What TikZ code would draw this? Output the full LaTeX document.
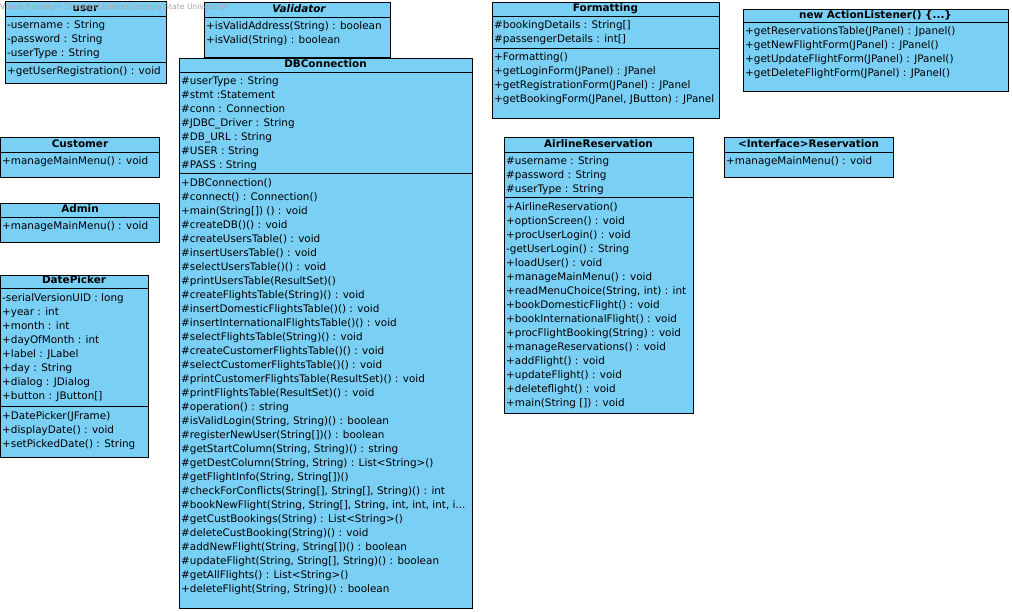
\documentclass[tikz,border=0pt]{standalone}
\usepackage{fontspec}
\setmainfont{DejaVu Sans}
\usepackage{tikz}
\definecolor{umlblue}{RGB}{122,207,245}
\definecolor{wmgray}{RGB}{165,165,165}
\newcommand{\umlfont}{\fontsize{10.4}{14}\selectfont}
\tikzstyle{classbox} = [draw=black, fill=umlblue, line width=0.8pt]
\tikzstyle{sepline} = [draw=black, line width=0.8pt]
\tikzstyle{classname} = [anchor=base, inner sep=0pt, font=\umlfont\bfseries]
\tikzstyle{members} = [anchor=north west, inner sep=0pt, align=left, font=\umlfont]

\begin{document}
\begin{tikzpicture}[x=1pt,y=-1pt]
\useasboundingbox (0,0) rectangle (1012,612);

% user
\draw[classbox] (5,1) rectangle (166,83);
\draw[sepline] (5,16) -- (166,16) (5,62) -- (166,62);
\node[classname] (user) at (85.5,12) {user};
\node[members] (userAttr) at (7,19) {\strut-username : String\\-password : String\\-userType : String};
\node[members] (userOps) at (7,65) {\strut+getUserRegistration() : void};

% Validator
\draw[classbox] (204,2) rectangle (390,57);
\draw[sepline] (204,17) -- (390,17);
\node[classname, font=\umlfont\bfseries\itshape] (validator) at (299,13) {Validator};
\node[members] (validatorOps) at (206,20) {\strut+isValidAddress(String) : boolean\\+isValid(String) : boolean};

% DBConnection
\draw[classbox] (179,58) rectangle (472,608);
\draw[sepline] (179,72) -- (472,72) (179,173) -- (472,173);
\node[classname] (dbconn) at (325.5,68) {DBConnection};
\node[members] (dbconnAttr) at (181,75) {\strut\#userType : String\\\#stmt :Statement\\\#conn : Connection\\
\#JDBC\_Driver : String\\\#DB\_URL : String\\\#USER : String\\\#PASS : String};
\node[members] (dbconnOps) at (181,176) {\strut+DBConnection()\\\#connect() : Connection()\\+main(String[]) () : void\\
\#createDB()() : void\\\#createUsersTable() : void\\\#insertUsersTable() : void\\\#selectUsersTable()() : void\\
\#printUsersTable(ResultSet)()\\\#createFlightsTable(String)() : void\\\#insertDomesticFlightsTable()() : void\\
\#insertInternationalFlightsTable()() : void\\\#selectFlightsTable(String)() : void\\
\#createCustomerFlightsTable()() : void\\\#selectCustomerFlightsTable()() : void\\
\#printCustomerFlightsTable(ResultSet)() : void\\\#printFlightsTable(ResultSet)() : void\\
\#operation() : string\\\#isValidLogin(String, String)() : boolean\\\#registerNewUser(String[])() : boolean\\
\#getStartColumn(String, String)() : string\\\#getDestColumn(String, String) : List<String>()\\
\#getFlightInfo(String, String[])()\\\#checkForConflicts(String[], String[], String)() : int\\
\#bookNewFlight(String, String[], String, int, int, int, i...\\\#getCustBookings(String) : List<String>()\\
\#deleteCustBooking(String)() : void\\\#addNewFlight(String, String[])() : boolean\\
\#updateFlight(String, String[], String)() : boolean\\\#getAllFlights() : List<String>()\\
+deleteFlight(String, String)() : boolean};

% Formatting
\draw[classbox] (492,2) rectangle (719,118);
\draw[sepline] (492,16) -- (719,16) (492,48) -- (719,48);
\node[classname] (formatting) at (605.5,12) {Formatting};
\node[members] (formattingAttr) at (494,19) {\strut\#bookingDetails : String[]\\\#passengerDetails : int[]};
\node[members] (formattingOps) at (494,51) {\strut+Formatting()\\+getLoginForm(JPanel) : JPanel\\
+getRegistrationForm(JPanel) : JPanel\\+getBookingForm(JPanel, JButton) : JPanel};

% new ActionListener
\draw[classbox] (743,9) rectangle (1008,91);
\draw[sepline] (743,22) -- (1008,22);
\node[classname] (listener) at (875.5,18.5) {new ActionListener() \{...\}};
\node[members] (listenerOps) at (745,25) {\strut+getReservationsTable(JPanel) : Jpanel()\\+getNewFlightForm(JPanel) : JPanel()\\
+getUpdateFlightForm(JPanel) : JPanel()\\+getDeleteFlightForm(JPanel) : JPanel()};

% Customer
\draw[classbox] (0.5,137) rectangle (159,177);
\draw[sepline] (0.5,152) -- (159,152);
\node[classname] (customer) at (80,148) {Customer};
\node[members] (customerOps) at (2,155) {\strut+manageMainMenu() : void};

% Admin
\draw[classbox] (0.5,203) rectangle (159,242);
\draw[sepline] (0.5,217) -- (159,217);
\node[classname] (admin) at (80,213) {Admin};
\node[members] (adminOps) at (2,220) {\strut+manageMainMenu() : void};

% DatePicker
\draw[classbox] (0.5,275) rectangle (148,457);
\draw[sepline] (0.5,288) -- (148,288) (0.5,406) -- (148,406);
\node[classname] (datepicker) at (74,284) {DatePicker};
\node[members] (datepickerAttr) at (2,291) {\strut-serialVersionUID : long\\+year : int\\+month : int\\+dayOfMonth : int\\
+label : JLabel\\+day : String\\+dialog : JDialog\\+button : JButton[]};
\node[members] (datepickerOps) at (2,409) {\strut+DatePicker(JFrame)\\+displayDate() : void\\+setPickedDate() : String};

% AirlineReservation
\draw[classbox] (504,137) rectangle (693,413);
\draw[sepline] (504,152) -- (693,152) (504,197) -- (693,197);
\node[classname] (airline) at (598.5,148) {AirlineReservation};
\node[members] (airlineAttr) at (506,155) {\strut\#username : String\\\#password : String\\\#userType : String};
\node[members] (airlineOps) at (506,200) {\strut+AirlineReservation()\\+optionScreen() : void\\+procUserLogin() : void\\
-getUserLogin() : String\\+loadUser() : void\\+manageMainMenu() : void\\+readMenuChoice(String, int) : int\\
+bookDomesticFlight() : void\\+bookInternationalFlight() : void\\+procFlightBooking(String) : void\\
+manageReservations() : void\\+addFlight() : void\\+updateFlight() : void\\+deleteflight() : void\\
+main(String []) : void};

% Reservation interface
\draw[classbox] (724,137) rectangle (893,177);
\draw[sepline] (724,152) -- (893,152);
\node[classname] (reservation) at (808.5,148) {<Interface>Reservation};
\node[members] (reservationOps) at (726,155) {\strut+manageMainMenu() : void};

% watermark
\node[anchor=west, inner sep=0pt, font=\fontsize{7.7}{9}\selectfont, text=wmgray] (watermark) at (0,7)
{Visual Paradigm Standard Edition(Georgia State University)};
\end{tikzpicture}
\end{document}
